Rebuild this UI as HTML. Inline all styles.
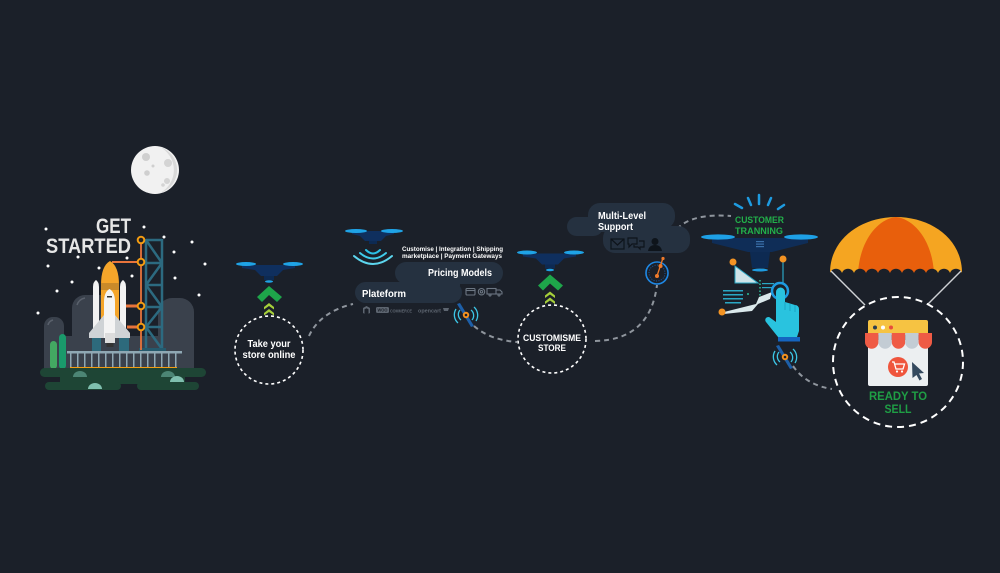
<!DOCTYPE html>
<html><head><meta charset="utf-8"><style>
html,body{margin:0;padding:0;background:#1b2029;}
svg{display:block}
text{font-family:"Liberation Sans",sans-serif;font-weight:bold;}
</style></head><body>
<svg width="1000" height="573" viewBox="0 0 1000 573" xmlns="http://www.w3.org/2000/svg">
<rect width="1000" height="573" fill="#1b2029"/>

<!-- ===== Moon ===== -->
<circle cx="155" cy="170" r="24" fill="#f1f1f1"/>
<path d="M160,147 A24,24 0 0 1 160,193 A26,26 0 0 0 160,147 Z" fill="#d9d9d9"/>
<circle cx="146" cy="157" r="4" fill="#cfcfcf"/>
<circle cx="168" cy="163" r="4" fill="#d4d4d4"/>
<circle cx="147" cy="173" r="2.8" fill="#cfcfcf"/>
<circle cx="153" cy="166" r="1.5" fill="#cfcfcf"/>
<circle cx="167" cy="181" r="3" fill="#d4d4d4"/>
<circle cx="163" cy="185" r="1.8" fill="#d4d4d4"/>

<!-- ===== Stars ===== -->
<g fill="#ffffff">
<circle cx="46" cy="229" r="1.5"/><circle cx="144" cy="227" r="1.5"/><circle cx="164" cy="237" r="1.5"/>
<circle cx="192" cy="242" r="1.5"/><circle cx="78" cy="257" r="1.5"/><circle cx="127" cy="258" r="1.5"/>
<circle cx="48" cy="266" r="1.5"/><circle cx="99" cy="268" r="1.5"/><circle cx="174" cy="252" r="1.5"/>
<circle cx="205" cy="264" r="1.5"/><circle cx="132" cy="276" r="1.5"/><circle cx="72" cy="282" r="1.5"/>
<circle cx="175" cy="278" r="1.5"/><circle cx="57" cy="291" r="1.5"/><circle cx="199" cy="295" r="1.5"/>
<circle cx="38" cy="313" r="1.5"/>
</g>

<!-- GET STARTED -->
<text x="131" y="233" font-size="21" fill="#e6e6e6" text-anchor="end" textLength="35" lengthAdjust="spacingAndGlyphs">GET</text>
<text x="131" y="253" font-size="21" fill="#e6e6e6" text-anchor="end" textLength="85" lengthAdjust="spacingAndGlyphs">STARTED</text>

<!-- hills -->
<g fill="#3a414c">
<rect x="44" y="317" width="20" height="55" rx="9"/>
<rect x="72" y="295" width="42" height="77" rx="13"/>
<rect x="158" y="298" width="36" height="74" rx="14"/>
<rect x="44" y="336" width="150" height="36"/>
</g>
<path d="M77,305 Q79,299 85,298" stroke="#5a616c" stroke-width="1.5" fill="none"/>
<path d="M48,325 Q49,321 53,320" stroke="#5a616c" stroke-width="1.5" fill="none"/>

<!-- cactus -->
<rect x="50" y="341" width="7" height="28" rx="3.5" fill="#43a862"/>
<rect x="59" y="334" width="7" height="35" rx="3.5" fill="#1a9a6b"/>

<!-- tower -->
<g stroke="#2c6a80" stroke-width="2.5" fill="none">
<line x1="146" y1="239" x2="146" y2="351"/>
<line x1="162" y1="239" x2="162" y2="351"/>
<line x1="146" y1="240" x2="162" y2="240"/>
<line x1="146" y1="263" x2="162" y2="263"/>
<line x1="146" y1="285" x2="162" y2="285"/>
<line x1="146" y1="307" x2="162" y2="307"/>
<line x1="146" y1="327" x2="162" y2="327"/>
<line x1="146" y1="240" x2="162" y2="263"/>
<line x1="162" y1="263" x2="146" y2="285"/>
<line x1="146" y1="285" x2="162" y2="307"/>
<line x1="162" y1="307" x2="146" y2="327"/>
<line x1="146" y1="327" x2="162" y2="349"/>
</g>
<rect x="139" y="348" width="27" height="4" fill="#25596c"/>

<!-- orange pole and arms -->
<line x1="141" y1="240" x2="141" y2="350" stroke="#e8743b" stroke-width="1.8"/>
<line x1="112" y1="262" x2="141" y2="262" stroke="#e8743b" stroke-width="2"/>
<line x1="125" y1="306" x2="141" y2="306" stroke="#e8743b" stroke-width="3"/>
<line x1="127" y1="327" x2="141" y2="327" stroke="#e8743b" stroke-width="3"/>
<g fill="#1b2029" stroke="#f39c12" stroke-width="2">
<circle cx="141" cy="240" r="3.3"/><circle cx="141" cy="262" r="3.3"/>
<circle cx="141" cy="306" r="3.3"/><circle cx="141" cy="327" r="3.3"/>
</g>

<!-- shuttle -->
<path d="M101,285 Q101,266 110,261 Q119,266 119,285 L119,337 L101,337 Z" fill="#f5a52a"/>
<rect x="101" y="283" width="18" height="7" fill="#c98a2a"/>
<path d="M93,287 Q93,282 96,280 Q99,282 99,287 L99,333 L93,333 Z" fill="#f2f2f2"/>
<path d="M120,287 Q120,282 123,280 Q126,282 126,287 L126,333 L120,333 Z" fill="#f2f2f2"/>
<rect x="92" y="337" width="9" height="15" fill="#2d6a7c"/>
<rect x="119" y="337" width="10" height="15" fill="#2d6a7c"/>
<path d="M104,315 L89,333 L89,338 L104,338 Z" fill="#cfd3d6"/>
<path d="M115,315 L130,333 L130,338 L115,338 Z" fill="#cfd3d6"/>
<path d="M104,302 Q104,292 109.5,289 Q115,292 115,302 L115,338 L104,338 Z" fill="#f4f4f4"/>
<rect x="107" y="296" width="5" height="1.5" fill="#333"/>
<rect x="105" y="333" width="10" height="10" fill="#dcdcdc"/>
<rect x="106.5" y="343" width="7" height="4" fill="#333"/>

<!-- fence -->
<rect x="67" y="351" width="115" height="2.5" fill="#8fa8b4"/>
<g fill="#8fa8b4">
<rect x="70" y="353" width="1.5" height="15"/><rect x="77" y="353" width="1.5" height="15"/>
<rect x="84" y="353" width="1.5" height="15"/><rect x="91" y="353" width="1.5" height="15"/>
<rect x="98" y="353" width="1.5" height="15"/><rect x="105" y="353" width="1.5" height="15"/>
<rect x="112" y="353" width="1.5" height="15"/><rect x="119" y="353" width="1.5" height="15"/>
<rect x="126" y="353" width="1.5" height="15"/><rect x="133" y="353" width="1.5" height="15"/>
<rect x="140" y="353" width="1.5" height="15"/><rect x="147" y="353" width="1.5" height="15"/>
<rect x="154" y="353" width="1.5" height="15"/><rect x="161" y="353" width="1.5" height="15"/>
<rect x="168" y="353" width="1.5" height="15"/><rect x="175" y="353" width="1.5" height="15"/>
</g>
<rect x="70" y="367" width="107" height="2" fill="#f39c12"/>

<!-- ground -->
<g fill="#1e4535">
<rect x="40" y="368" width="166" height="9" rx="4.5"/>
<rect x="60" y="374" width="125" height="10"/>
<rect x="45" y="382" width="76" height="8" rx="4"/>
<rect x="137" y="382" width="62" height="8" rx="4"/>
</g>
<path d="M73,377 a7,6 0 0 1 14,0 Z" fill="#4c8574"/>
<path d="M88,389 a7,6 0 0 1 14,0 Z" fill="#7fbfae"/>
<path d="M161,377 a7,6 0 0 1 14,0 Z" fill="#4c8574"/>
<path d="M170,382 a7,6 0 0 1 14,0 Z" fill="#7fbfae"/>

<!-- ===== dashed connectors ===== -->
<g stroke="#8f959d" stroke-width="2" fill="none" stroke-dasharray="5 4">
<path d="M309,336 Q320,312 353,304"/>
<path d="M474,326 Q490,340 517,342"/>
<path d="M595,341 Q650,340 657,285"/>
<path d="M677,229 Q692,213 731,216"/>
<path d="M793,366 Q806,385 832,389"/>
</g>

<!-- ===== Drone 1 + chevrons ===== -->
<g id="d1">
<g transform="translate(269,264)">
 <path d="M-27,1 L26,1 L26,4 L14,6 L8,12 L-8,12 L-14,6 L-27,4 Z" fill="#0f2f5e"/>
 <ellipse cx="-23" cy="0" rx="10" ry="2" fill="#1fa3e6"/>
 <ellipse cx="24" cy="0" rx="10" ry="2" fill="#1fa3e6"/>
 <rect x="-5" y="12" width="10" height="4" fill="#0d2a52"/>
 <ellipse cx="0" cy="17.5" rx="4" ry="1.3" fill="#1fa3e6"/>
</g>
<polygon points="257,297 269,286 282,297 277,302 269,295 262,302" fill="#1ea54a"/>
<polygon points="264,307 269,303 274,307 274,309.5 269,306 264,309.5" fill="#a6cf3a"/>
<polygon points="264,313 269,309 274,313 274,315.5 269,312 264,315.5" fill="#a6cf3a"/>
</g>
<circle cx="269" cy="350" r="34" fill="none" stroke="#ffffff" stroke-width="1.6" stroke-dasharray="3 3"/>
<text x="269" y="347" font-size="10" fill="#ffffff" text-anchor="middle" textLength="43" lengthAdjust="spacingAndGlyphs">Take your</text>
<text x="269" y="358" font-size="10" fill="#ffffff" text-anchor="middle" textLength="53" lengthAdjust="spacingAndGlyphs">store online</text>

<!-- ===== Drone 3 ===== -->
<g transform="translate(281,-11.5)">
<g transform="translate(269,264)">
 <path d="M-27,1 L26,1 L26,4 L14,6 L8,12 L-8,12 L-14,6 L-27,4 Z" fill="#0f2f5e"/>
 <ellipse cx="-23" cy="0" rx="10" ry="2" fill="#1fa3e6"/>
 <ellipse cx="24" cy="0" rx="10" ry="2" fill="#1fa3e6"/>
 <rect x="-5" y="12" width="10" height="4" fill="#0d2a52"/>
 <ellipse cx="0" cy="17.5" rx="4" ry="1.3" fill="#1fa3e6"/>
</g>
<polygon points="257,297 269,286 282,297 277,302 269,295 262,302" fill="#1ea54a"/>
<polygon points="264,307 269,303 274,307 274,309.5 269,306 264,309.5" fill="#a6cf3a"/>
<polygon points="264,313 269,309 274,313 274,315.5 269,312 264,315.5" fill="#a6cf3a"/>
</g>
<circle cx="552" cy="339" r="34" fill="none" stroke="#ffffff" stroke-width="1.6" stroke-dasharray="3 3"/>
<text x="552" y="341" font-size="9.5" fill="#ffffff" text-anchor="middle" textLength="58" lengthAdjust="spacingAndGlyphs">CUSTOMISME</text>
<text x="552" y="351" font-size="9.5" fill="#ffffff" text-anchor="middle" textLength="28" lengthAdjust="spacingAndGlyphs">STORE</text>

<!-- ===== Drone 2 (wifi) ===== -->
<g>
 <path d="M352,231 L394,231 L394,234 L386,236 L381,241 L365,241 L360,236 L352,234 Z" fill="#0f2f5e"/>
 <ellipse cx="356" cy="231" rx="11" ry="2" fill="#1fa3e6"/>
 <ellipse cx="392" cy="231" rx="11" ry="2" fill="#1fa3e6"/>
 <rect x="369" y="241" width="8" height="3" fill="#0d2a52"/>
 <g fill="none" stroke-linecap="round">
  <path d="M366,250 Q373,257 380,250" stroke="#2bc0e6" stroke-width="2"/>
  <path d="M360,253 Q373,264 386,253" stroke="#3fcbea" stroke-width="2"/>
  <path d="M354,256 Q373,272 392,256" stroke="#5dd6ee" stroke-width="2"/>
 </g>
</g>
<text x="402" y="251" font-size="6.4" fill="#ffffff" textLength="101" lengthAdjust="spacingAndGlyphs">Customise | Integration | Shipping</text>
<text x="402" y="258" font-size="6.4" fill="#ffffff" textLength="100" lengthAdjust="spacingAndGlyphs">marketplace | Payment Gateways</text>

<!-- Plateform cloud -->
<g fill="#253140">
<rect x="395" y="262" width="108" height="22" rx="11"/>
<rect x="355" y="282" width="107" height="21" rx="10.5"/>
<rect x="410" y="278" width="50" height="8"/>
</g>
<text x="428" y="276" font-size="10" fill="#ffffff" textLength="64" lengthAdjust="spacingAndGlyphs">Pricing Models</text>
<text x="362" y="297" font-size="10" fill="#ffffff" textLength="44" lengthAdjust="spacingAndGlyphs">Plateform</text>
<!-- plateform icons -->
<g stroke="#6c7682" stroke-width="1.1" fill="none">
<rect x="466" y="288.5" width="9" height="6.5" rx="1"/>
<line x1="466" y1="290.5" x2="475" y2="290.5"/>
<circle cx="481.5" cy="291.7" r="3.2"/>
<circle cx="481.5" cy="291.7" r="1.2"/>
<rect x="487" y="288.5" width="9" height="5.5"/>
<path d="M496,290 h4 l2,2 v2 h-6"/>
<circle cx="490" cy="295" r="1"/><circle cx="499" cy="295" r="1"/>
</g>
<!-- logos -->
<g fill="#5d6570">
<path d="M363,308 l3.5,-2 l3.5,2 v5 l-1.5,0.8 v-4.5 l-2,-1.1 l-2,1.1 v4.5 l-1.5,-0.8 Z"/>
<rect x="376" y="307" width="13" height="6" rx="1.5"/>
<text x="390" y="312.5" font-size="4.6" textLength="22" lengthAdjust="spacingAndGlyphs">COMMERCE</text>
<text x="418" y="312.5" font-size="5.6" font-weight="normal" textLength="23" lengthAdjust="spacingAndGlyphs">opencart</text>
<path d="M443,308 h6 l-1,3 h-4 Z"/>
</g>
<text x="377.5" y="311.7" font-size="4.4" fill="#1b2029" textLength="10" lengthAdjust="spacingAndGlyphs">WOO</text>

<!-- satellites (blue/cyan/orange) -->
<g id="sat1" transform="translate(466,315)">
 <path d="M-9,-11 L-6,-12 L8,11 L5,12 Z" fill="#1d5fa8"/>
 <g fill="none" stroke="#3cc6e6" stroke-width="1.3">
  <path d="M5,-5 A7,7 0 0 1 6,5"/>
  <path d="M8,-8 A11,11 0 0 1 10,6"/>
  <path d="M-5,5 A7,7 0 0 1 -6,-5"/>
  <path d="M-8,8 A11,11 0 0 1 -10,-6"/>
 </g>
 <circle r="3.2" fill="#f7931e"/><circle r="1.3" fill="#1b2029"/>
</g>
<g transform="translate(785,357)">
 <path d="M-9,-11 L-6,-12 L8,11 L5,12 Z" fill="#1d5fa8"/>
 <g fill="none" stroke="#3cc6e6" stroke-width="1.3">
  <path d="M5,-5 A7,7 0 0 1 6,5"/>
  <path d="M8,-8 A11,11 0 0 1 10,6"/>
  <path d="M-5,5 A7,7 0 0 1 -6,-5"/>
  <path d="M-8,8 A11,11 0 0 1 -10,-6"/>
 </g>
 <circle r="3.2" fill="#f7931e"/><circle r="1.3" fill="#1b2029"/>
</g>

<!-- ===== Multi-Level Support ===== -->
<g fill="#253140">
<rect x="588" y="203" width="87" height="26" rx="12"/>
<rect x="603" y="226" width="87" height="27" rx="12"/>
<rect x="567" y="217" width="36" height="19" rx="9.5"/>
<rect x="600" y="220" width="60" height="12"/>
</g>
<text x="598" y="219" font-size="10" fill="#ffffff" textLength="48" lengthAdjust="spacingAndGlyphs">Multi-Level</text>
<text x="598" y="230" font-size="10" fill="#ffffff" textLength="35" lengthAdjust="spacingAndGlyphs">Support</text>
<g stroke="#0e141b" stroke-width="1.2" fill="none">
<rect x="611" y="239" width="13" height="10"/>
<path d="M611,239 L617.5,245 L624,239"/>
<path d="M628,238 h9 v6 h-5 l-3,3 v-3 h-1 Z"/>
<path d="M634,245 v2 h4 l2,2 v-2 h4 v-6 h-5"/>
</g>
<circle cx="655" cy="241.5" r="3.5" fill="#0e141b"/>
<path d="M648,251 Q649,245 655,245 Q661,245 662,251 Z" fill="#0e141b"/>

<!-- satellite 2 -->
<circle cx="657" cy="273" r="11" fill="none" stroke="#1e88e5" stroke-width="1.6"/>
<circle cx="657" cy="273" r="8" fill="none" stroke="#1565c0" stroke-width="0.8" stroke-dasharray="1 1.5"/>
<line x1="657" y1="276" x2="663" y2="258" stroke="#f07a2a" stroke-width="1.3"/>
<circle cx="657" cy="276" r="2" fill="#f07a2a"/>
<circle cx="660.5" cy="266" r="2" fill="#f07a2a"/>
<circle cx="663" cy="258.5" r="1.6" fill="#f07a2a"/>

<!-- ===== Customer Training ===== -->
<g stroke="#1e9be0" stroke-width="2.5" stroke-linecap="round">
<line x1="735" y1="204" x2="742" y2="208"/>
<line x1="748" y1="198" x2="751" y2="205"/>
<line x1="759" y1="195" x2="759" y2="204"/>
<line x1="771" y1="198" x2="768" y2="205"/>
<line x1="784" y1="205" x2="778" y2="209"/>
</g>
<text x="735" y="223" font-size="9" fill="#22b04a" textLength="49" lengthAdjust="spacingAndGlyphs">CUSTOMER</text>
<text x="735" y="234" font-size="9" fill="#22b04a" textLength="48" lengthAdjust="spacingAndGlyphs">TRANNING</text>
<!-- drone 4 -->
<path d="M712,238 L808,238 L808,243 L792,247 L772,252 L748,252 L728,247 L712,243 Z" fill="#0f2d57"/>
<ellipse cx="718" cy="237" rx="17" ry="2.6" fill="#1ea0e6"/>
<ellipse cx="801" cy="237" rx="17" ry="2.6" fill="#1ea0e6"/>
<rect x="756" y="241" width="8" height="1.2" fill="#3a6fa8"/>
<rect x="756" y="243.5" width="8" height="1.2" fill="#3a6fa8"/>
<rect x="756" y="246" width="8" height="1.2" fill="#3a6fa8"/>
<path d="M750,252 L770,252 L768,268 L752,268 Z" fill="#0d2a52"/>
<ellipse cx="760" cy="270" rx="8" ry="1.5" fill="#1e9be0"/>
<!-- lower graphics -->
<polygon points="735,266 735,283 758,283" fill="#cfe3e8" stroke="#2aa7c4" stroke-width="1"/>
<circle cx="733" cy="262" r="3.5" fill="#f39323"/>
<line x1="783" y1="262" x2="783" y2="284" stroke="#2aa7c4" stroke-width="1.2"/>
<circle cx="783" cy="259" r="3.5" fill="#f39323"/>
<line x1="760" y1="280" x2="760" y2="302" stroke="#2dbf9a" stroke-width="1.5" stroke-dasharray="1.5 2"/>
<g fill="#2aa7c4">
<rect x="723" y="290" width="20" height="1.5"/>
<rect x="723" y="294" width="20" height="1.5"/>
<rect x="723" y="298" width="20" height="1.5"/>
<rect x="725" y="302" width="16" height="1.5"/>
<rect x="762" y="283" width="12" height="1.2"/>
<rect x="762" y="287" width="12" height="1.2"/>
</g>
<circle cx="748" cy="294" r="1" fill="#2dbf9a"/>
<polygon points="724,312 756,304 759,297 772,292 770,299 758,304 752,311 724,314" fill="#dbe9ec"/>
<circle cx="722" cy="312" r="3.5" fill="#f39323"/>
<!-- hand -->
<circle cx="780" cy="291" r="8" fill="none" stroke="#1e9be0" stroke-width="2.5"/>
<path d="M776,292 a4.5,4.5 0 0 1 9,0 v10 l10,3 a4,4 0 0 1 4,4 v22 l-2,6 h-19 l-12,-15 a3,3 0 0 1 4.5,-4 l5.5,4 Z" fill="#29c3df"/>
<path d="M785,302 v8 M790,304 v7 M795,305 v7" stroke="#1ba6c4" stroke-width="1"/>
<rect x="778" y="337" width="22" height="4.5" fill="#1565c0"/>

<!-- ===== Parachute ===== -->
<path d="M830,273 C830,238 862,217 896,217 C930,217 962,238 962,273 Z" fill="#f5a521"/>
<path d="M858,273 C860,240 878,219 896,217 C914,219 932,240 934,273 Z" fill="#e85f0c"/>
<g fill="#1b2029">
<circle cx="836" cy="275" r="6.3"/><circle cx="848" cy="275" r="6.3"/><circle cx="860" cy="275" r="6.3"/>
<circle cx="872" cy="275" r="6.3"/><circle cx="884" cy="275" r="6.3"/><circle cx="896" cy="275" r="6.3"/>
<circle cx="908" cy="275" r="6.3"/><circle cx="920" cy="275" r="6.3"/><circle cx="932" cy="275" r="6.3"/>
<circle cx="944" cy="275" r="6.3"/><circle cx="956" cy="275" r="6.3"/>
</g>
<g stroke="#cfd2d6" stroke-width="1.4">
<line x1="831" y1="271" x2="865" y2="305"/>
<line x1="961" y1="271" x2="928" y2="304"/>
</g>
<circle cx="898" cy="362" r="65" fill="none" stroke="#ffffff" stroke-width="2" stroke-dasharray="7 5"/>

<!-- store -->
<rect x="868" y="340" width="60" height="46" rx="2" fill="#eceff1"/>
<rect x="868" y="320" width="60" height="15" rx="2" fill="#f6c342"/>
<circle cx="875" cy="327.5" r="2" fill="#2c3e50"/>
<circle cx="883" cy="327.5" r="2" fill="#ffffff"/>
<circle cx="891" cy="327.5" r="2" fill="#e74c3c"/>
<path d="M865,333 h13.4 v9 a6.7,6.7 0 0 1 -13.4,0 Z" fill="#ef5b45"/>
<path d="M878.4,333 h13.4 v9 a6.7,6.7 0 0 1 -13.4,0 Z" fill="#c3ccd4"/>
<path d="M891.8,333 h13.4 v9 a6.7,6.7 0 0 1 -13.4,0 Z" fill="#ef5b45"/>
<path d="M905.2,333 h13.4 v9 a6.7,6.7 0 0 1 -13.4,0 Z" fill="#c3ccd4"/>
<path d="M918.6,333 h13.4 v9 a6.7,6.7 0 0 1 -13.4,0 Z" fill="#ef5b45"/>
<circle cx="898" cy="367" r="10" fill="#ef553d"/>
<g stroke="#ffffff" stroke-width="1.3" fill="none">
<path d="M892,362 h2 l2,7 h7 l1.5,-5 h-9.5"/>
</g>
<circle cx="897" cy="371.5" r="1.1" fill="#fff"/><circle cx="902" cy="371.5" r="1.1" fill="#fff"/>
<path d="M912,362 L924,373 L919,373.5 L922,379 L919.5,380.5 L916.5,375 L912.5,378 Z" fill="#34495e"/>
<text x="898" y="400" font-size="12" fill="#1f9e45" text-anchor="middle" textLength="58" lengthAdjust="spacingAndGlyphs">READY TO</text>
<text x="898" y="413" font-size="12" fill="#1f9e45" text-anchor="middle" textLength="27" lengthAdjust="spacingAndGlyphs">SELL</text>
</svg>
</body></html>
